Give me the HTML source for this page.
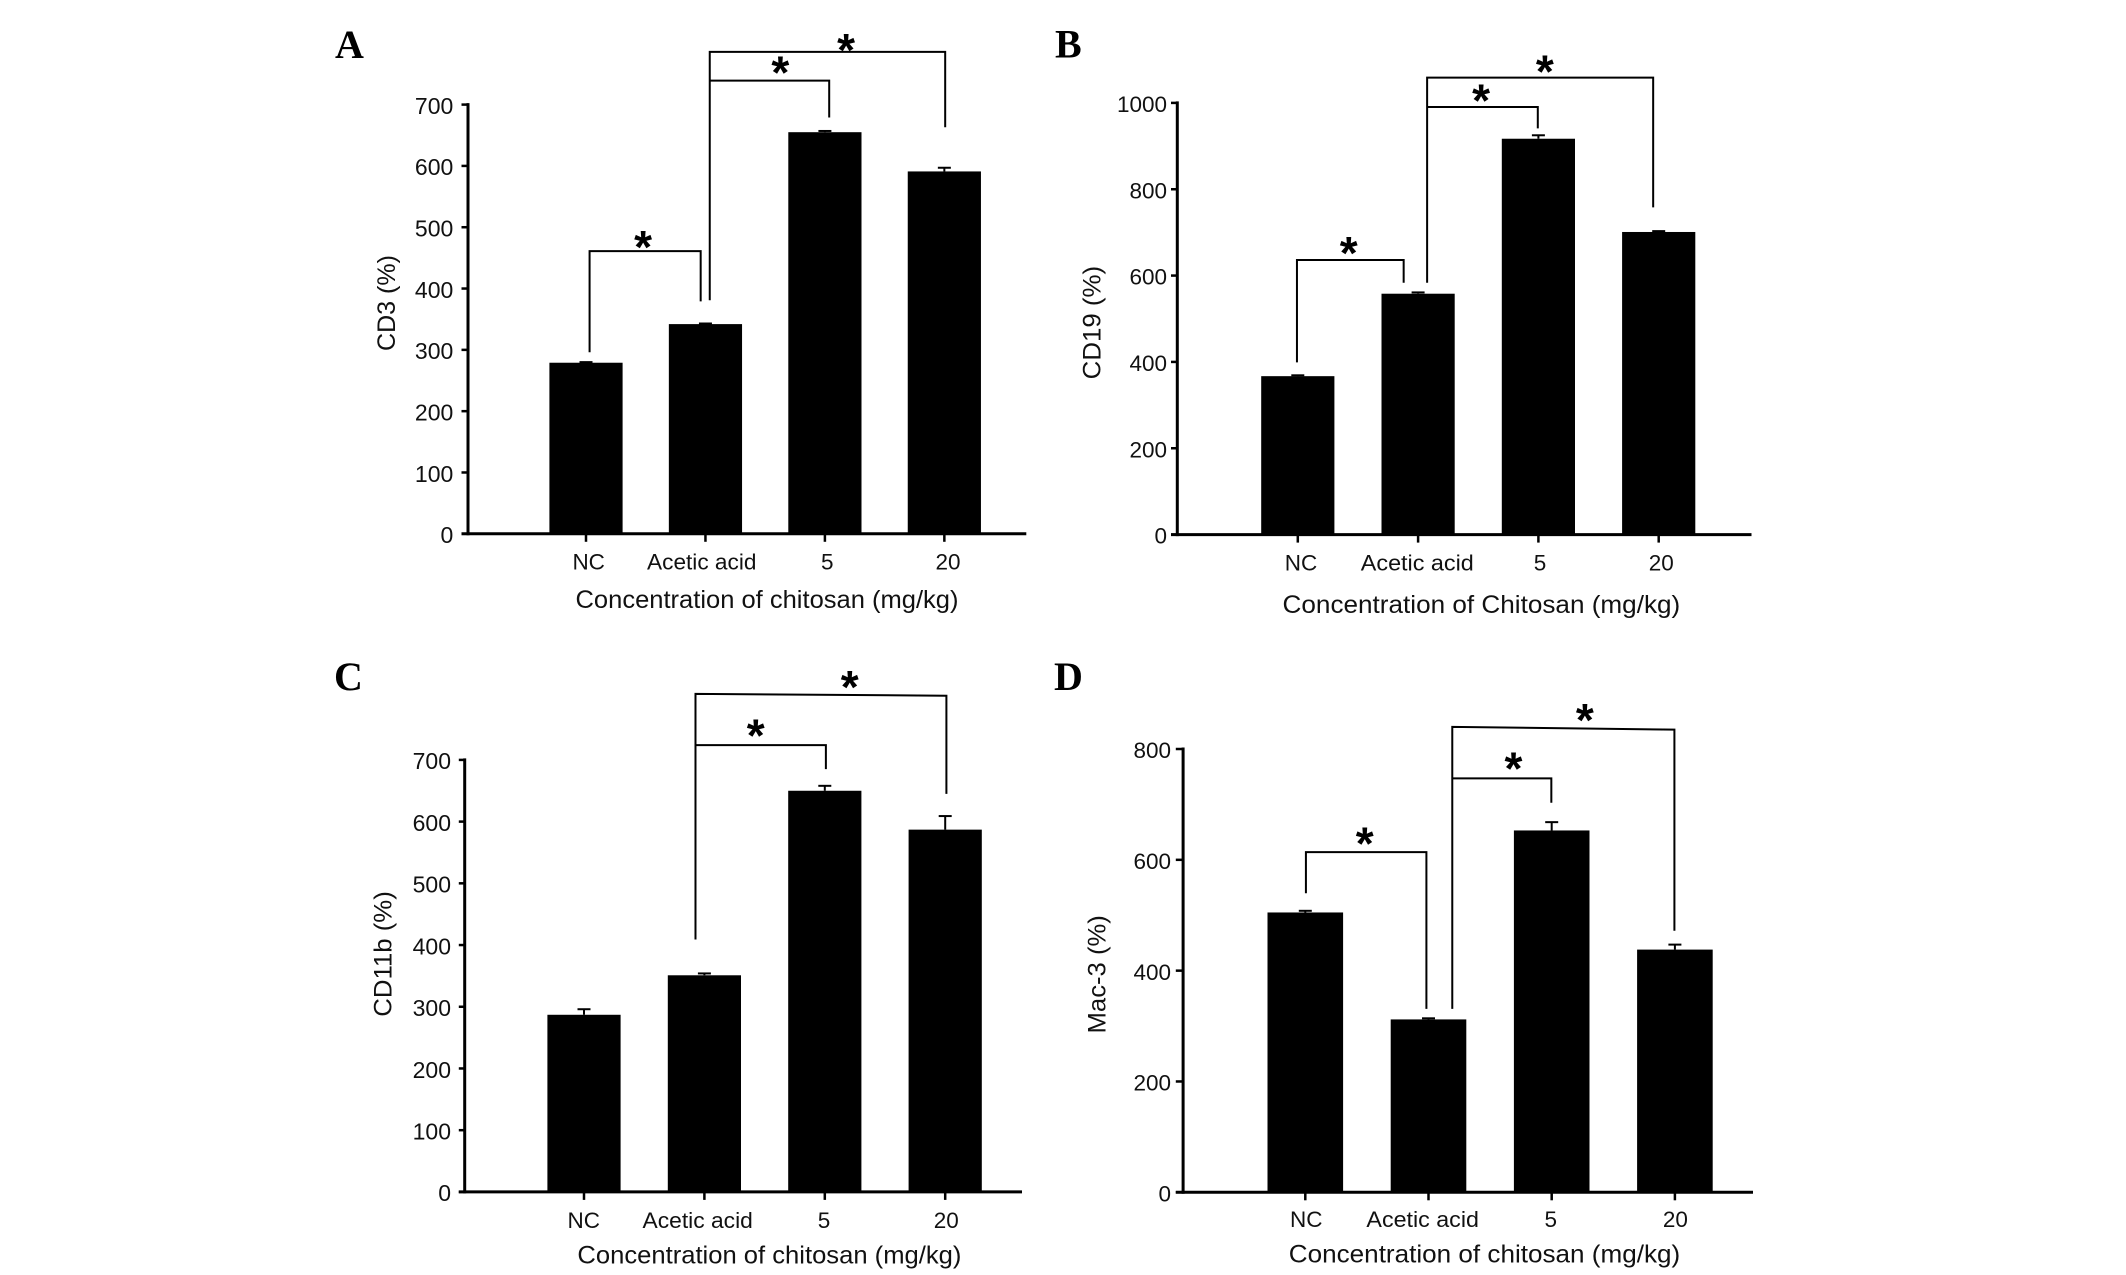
<!DOCTYPE html>
<html lang="en">
<head>
<meta charset="utf-8">
<title>Chitosan concentration bar charts</title>
<style>
html,body{margin:0;padding:0;background:#fff;}
svg{display:block;font-family:"Liberation Sans",Arial,sans-serif;fill:#000;}
.letter{font-family:"Liberation Serif",serif;font-weight:bold;font-size:40px;}
.title{font-size:25px;fill:#111;}
</style>
</head>
<body>
<svg id="figure" xmlns="http://www.w3.org/2000/svg" width="2126" height="1275" viewBox="0 0 2126 1275">
  <rect x="0" y="0" width="2126" height="1275" fill="#fff"/>
  <g id="panel-a">
    <text class="letter" x="335" y="58">A</text>
    <text class="title" x="767" y="608" text-anchor="middle" textLength="383" lengthAdjust="spacingAndGlyphs">Concentration of chitosan (mg/kg)</text>
    <text class="title" transform="translate(395,303) rotate(-90)" text-anchor="middle" textLength="96" lengthAdjust="spacingAndGlyphs">CD3 (%)</text>
  </g>
  <g id="panel-b">
    <text class="letter" x="1055" y="57.5">B</text>
    <text class="title" x="1481.4" y="613" text-anchor="middle" textLength="397.7" lengthAdjust="spacingAndGlyphs">Concentration of Chitosan (mg/kg)</text>
    <text class="title" transform="translate(1100.5,322.6) rotate(-90)" text-anchor="middle" textLength="113.5" lengthAdjust="spacingAndGlyphs">CD19 (%)</text>
  </g>
  <g id="panel-c">
    <text class="letter" x="334" y="690">C</text>
    <text class="title" x="769.4" y="1263.5" text-anchor="middle" textLength="384" lengthAdjust="spacingAndGlyphs">Concentration of chitosan (mg/kg)</text>
    <text class="title" transform="translate(391.5,954) rotate(-90)" text-anchor="middle" textLength="125.6" lengthAdjust="spacingAndGlyphs">CD11b (%)</text>
  </g>
  <g id="panel-d">
    <text class="letter" x="1054" y="690">D</text>
    <text class="title" x="1484.5" y="1262.5" text-anchor="middle" textLength="391.4" lengthAdjust="spacingAndGlyphs">Concentration of chitosan (mg/kg)</text>
    <text class="title" transform="translate(1105.5,974.3) rotate(-90)" text-anchor="middle" textLength="118.3" lengthAdjust="spacingAndGlyphs">Mac-3 (%)</text>
  </g>
</svg>
<script>
const categories = ['NC', 'Acetic acid', '5', '20'];

const aValues = [279, 342, 655, 591];
const aErrorTops = [280, 343, 657, 597];
const aTicks = [0, 100, 200, 300, 400, 500, 600, 700];

const bValues = [367, 558, 917, 701];
const bErrorTops = [369, 561, 925, 703];
const bTicks = [0, 200, 400, 600, 800, 1000];

const cValues = [287, 351, 650, 587];
const cErrorTops = [296, 354, 658, 609];
const cTicks = [0, 100, 200, 300, 400, 500, 600, 700];

const dValues = [505, 312, 653, 438];
const dErrorTops = [508, 314, 668, 447];
const dTicks = [0, 200, 400, 600, 800];

/* Significance brackets, in category-index and axis-value units */
const aBrackets = [
  {from: 0.03, to: 0.96, top: 461, topRight: 461, leftEnd: 296, rightEnd: 379, starAt: 0.478, starValue: 477.5},
  {from: 1.036, to: 2.036, top: 739, topRight: 739, leftEnd: 739, rightEnd: 679, starAt: 1.627, starValue: 762},
  {from: 1.036, to: 3.007, top: 786, topRight: 786, leftEnd: 381, rightEnd: 663, starAt: 2.177, starValue: 799}
];
const bBrackets = [
  {from: -0.007, to: 0.88, top: 636, topRight: 636, leftEnd: 399, rightEnd: 583.5, starAt: 0.423, starValue: 666.5},
  {from: 1.075, to: 1.995, top: 990.5, topRight: 990.5, leftEnd: 990.5, rightEnd: 941, starAt: 1.524, starValue: 1020},
  {from: 1.075, to: 2.954, top: 1058.6, topRight: 1058.6, leftEnd: 583.5, rightEnd: 758, starAt: 2.053, starValue: 1087}
];
const cBrackets = [
  {from: 0.926, to: 2.009, top: 724, topRight: 724, leftEnd: 724, rightEnd: 685, starAt: 1.426, starValue: 749},
  {from: 0.926, to: 3.01, top: 807, topRight: 804, leftEnd: 409, rightEnd: 645, starAt: 2.207, starValue: 827.5}
];
const dBrackets = [
  {from: 0.005, to: 0.983, top: 614, topRight: 614, leftEnd: 539.6, rightEnd: 331, starAt: 0.482, starValue: 640},
  {from: 1.193, to: 1.997, top: 747, topRight: 747, leftEnd: 747, rightEnd: 703, starAt: 1.69, starValue: 776},
  {from: 1.193, to: 2.996, top: 840, topRight: 835, leftEnd: 331, rightEnd: 472, starAt: 2.269, starValue: 863}
];

/* Panel frames: pixel geometry of each plot area */
const panelA = {id: 'a', values: aValues, errorTops: aErrorTops, ticks: aTicks, brackets: aBrackets,
  axisX: 468, axisStart: 461.5, axisEnd: 1026.3, zeroY: 533.8, maxY: 104.6, maxV: 700,
  cat0: 586, catStep: 119.45, barW: 73.2, tickLabelRight: 453.3, fontSize: 23, labelSize: 22.5, labelY: 569.5, labelLen: 109.4, nudge: [2.7, -3.7, 2.3, 3.7]};
const panelB = {id: 'b', values: bValues, errorTops: bErrorTops, ticks: bTicks, brackets: bBrackets,
  axisX: 1177.3, axisStart: 1171, axisEnd: 1751.5, zeroY: 534.6, maxY: 102.9, maxV: 1000,
  cat0: 1297.8, catStep: 120.3, barW: 73.2, tickLabelRight: 1167, fontSize: 22.5, labelSize: 22.5, labelY: 570.5, labelLen: 113, nudge: [3.2, -0.8, 1.6, 2.6]};
const panelC = {id: 'c', values: cValues, errorTops: cErrorTops, ticks: cTicks, brackets: cBrackets,
  axisX: 464.7, axisStart: 458.8, axisEnd: 1022, zeroY: 1191.9, maxY: 759.9, maxV: 700,
  cat0: 584, catStep: 120.4, barW: 73.2, tickLabelRight: 451, fontSize: 23, labelSize: 22.5, labelY: 1227.8, labelLen: 110.3, nudge: [-0.2, -6.7, -0.8, 1.1]};
const panelD = {id: 'd', values: dValues, errorTops: dErrorTops, ticks: dTicks, brackets: dBrackets,
  axisX: 1183.1, axisStart: 1175.8, axisEnd: 1753, zeroY: 1192.3, maxY: 749, maxV: 800,
  cat0: 1305.3, catStep: 123.2, barW: 75.6, tickLabelRight: 1171, fontSize: 22.5, labelSize: 22.5, labelY: 1227, labelLen: 112.5, nudge: [1, -5.8, -1, 0.5]};

const NS = 'http://www.w3.org/2000/svg';

function make(tag, attrs, parent) {
  const el = document.createElementNS(NS, tag);
  for (const k in attrs) el.setAttribute(k, attrs[k]);
  parent.appendChild(el);
  return el;
}

function drawPanel(p) {
  const group = document.getElementById('panel-' + p.id);
  const y = function (v) { return p.zeroY - (p.zeroY - p.maxY) * v / p.maxV; };
  const x = function (i) { return p.cat0 + p.catStep * i; };

  /* bars + error bars */
  p.values.forEach(function (v, i) {
    const stem = make('line', {x1: x(i), x2: x(i), y1: y(v), y2: y(p.errorTops[i]), stroke: '#000', 'stroke-width': 2}, group);
    
    
    const cap = make('line', {x1: x(i) - 6.5, x2: x(i) + 6.5, y1: y(p.errorTops[i]), y2: y(p.errorTops[i]), stroke: '#000', 'stroke-width': 2}, group);
    
    
    const bar = make('rect', {x: x(i) - p.barW / 2, y: y(v), width: p.barW, height: p.zeroY - y(v), fill: '#000'}, group);
    
    
  });

  /* axes */
  const yAxis = make('line', {x1: p.axisX, x2: p.axisX, y1: p.maxY - 1.5, y2: p.zeroY + 1.5, stroke: '#000', 'stroke-width': 3}, group);
  
  
  const xAxis = make('line', {x1: p.axisStart, x2: p.axisEnd, y1: p.zeroY, y2: p.zeroY, stroke: '#000', 'stroke-width': 3}, group);
  
  

  /* y ticks + labels */
  p.ticks.forEach(function (t) {
    const tick = make('line', {x1: p.axisStart, x2: p.axisX, y1: y(t), y2: y(t), stroke: '#000', 'stroke-width': 2.5}, group);
    
    
    const label = make('text', {x: p.tickLabelRight, y: y(t) + p.fontSize * 0.36 + 1, 'text-anchor': 'end', 'font-size': p.fontSize, fill: '#111'}, group);
    label.textContent = String(t);
    
    
  });

  /* x ticks + labels */
  categories.forEach(function (c, i) {
    const tick = make('line', {x1: x(i), x2: x(i), y1: p.zeroY, y2: p.zeroY + 8, stroke: '#000', 'stroke-width': 2.5}, group);
    
    
    const attrs = {x: x(i) + p.nudge[i], y: p.labelY, 'text-anchor': 'middle', 'font-size': p.labelSize, fill: '#111'};
    if (c === 'Acetic acid') {
      attrs.textLength = p.labelLen;
      attrs.lengthAdjust = 'spacingAndGlyphs';
    }
    const label = make('text', attrs, group);
    label.textContent = c;
    
    
  });

  /* significance brackets + stars */
  p.brackets.forEach(function (b, i) {
    const d = 'M' + x(b.from) + ',' + y(b.leftEnd) + ' L' + x(b.from) + ',' + y(b.top) +
              ' L' + x(b.to) + ',' + y(b.topRight) + ' L' + x(b.to) + ',' + y(b.rightEnd);
    const line = make('path', {d: d, fill: 'none', stroke: '#000', 'stroke-width': 2}, group);
    
    
    const star = make('text', {x: x(b.starAt), y: y(b.starValue) + 22, 'text-anchor': 'middle', 'font-size': 46, 'font-weight': 'bold', fill: '#000'}, group);
    star.textContent = '*';
    
    
  });
}

drawPanel(panelA);
drawPanel(panelB);
drawPanel(panelC);
drawPanel(panelD);
</script>
</body>
</html>
